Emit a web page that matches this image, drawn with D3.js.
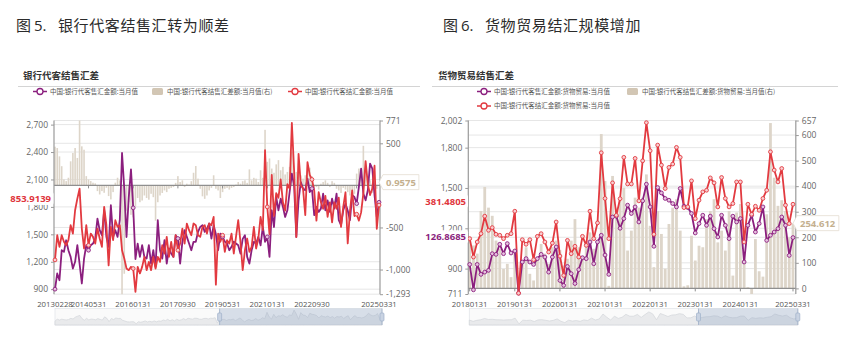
<!DOCTYPE html>
<html>
<head>
<meta charset="utf-8">
<script src="https://cdn.jsdelivr.net/npm/d3@7"></script>
<style>
  html, body { margin: 0; padding: 0; background: #fff; }
  svg { display: block; }
</style>
</head>
<body>
<svg id="chart" width="847" height="344"></svg>
<script>
// ---------- Figure 5: bank FX settlement / sales on behalf of clients (monthly) ----------
const bankStart = [2013, 2];            // first month
const bankTickLabels = ["20130228", "20140531", "20160131", "20170930", "20190531", "20210131", "20220930", "20250331"];
const bankLeftTicks = [900, 1200, 1500, 1800, 2100, 2400, 2700];
const bankRightTicks = [-1293, -1000, -500, 500, 771];
const bankLeftDomain = [845, 2745];
const bankRightDomain = [-1293, 771];

// 售汇 (purple)
const bankSales = [
  900, 1072, 998, 1326, 1308, 1435, 1326, 1253, 1126, 1199,
  1381, 1180, 962, 1235, 1381, 1326, 1381, 1399, 1454, 1672,
  1545, 1490, 1763, 1472, 1363, 1818, 1472, 1545, 1472, 1654,
  2390, 2000, 1470, 1900, 2210, 1790, 1230, 1399, 1253, 1381,
  1253, 1235, 1381, 1180, 1326, 1144, 1654, 1326, 1235, 1436,
  1180, 1345, 1290, 1253, 1490, 1454, 1180, 1418, 1545, 1472,
  1399, 1326, 1418, 1418, 1527, 1581, 1600, 1527, 1563, 1618,
  1454, 1600, 1500, 1326, 1508, 1472, 1420, 1400, 1326, 1363,
  1420, 1400, 1380, 1290, 1450, 1490, 1253, 1180, 1326, 1418,
  1400, 1472, 1380, 1581, 1418, 1472, 1253, 1763, 1580, 1909,
  1763, 1891, 1800, 1690, 1763, 1963, 2164, 2037, 1472, 1872,
  2072, 2000, 1982, 2110, 1963, 2000, 1709, 1800, 1745, 1781,
  1945, 1763, 1872, 1745, 1891, 1781, 1945, 1654, 1600, 1763,
  1836, 1760, 1654, 1927, 1909, 1836, 2018, 2219, 1945, 1872,
  1982, 2274, 2219, 1927, 1690, 1850
];
// 结汇 (red)
const bankSettle = [
  1220, 1490, 1363, 1490, 1418, 1381, 1436, 1600, 1508, 1763,
  1891, 2000, 1563, 1345, 1600, 1381, 1508, 1472, 1399, 1563,
  1454, 1363, 1800, 1600, 1160, 1581, 1436, 1654, 1581, 1600,
  1326, 1235, 1126, 1108, 1144, 1126, 871, 1144, 1072, 1144,
  1253, 1108, 1199, 1108, 1253, 1126, 1253, 1199, 1381, 1290,
  1472, 1253, 1418, 1253, 1490, 1326, 1399, 1563, 1399, 1618,
  1545, 1490, 1618, 1600, 1490, 1472, 1581, 1600, 1508, 1618,
  1600, 1690, 950, 1508, 1418, 1490, 1308, 1436, 1399, 1508,
  1290, 1472, 1654, 1418, 1108, 1326, 1454, 1308, 1363, 1581,
  1345, 1454, 1690, 1545, 2420, 1800, 1500, 2150, 1700, 1950,
  1900, 2100, 1850, 1760, 2050, 2000, 2720, 2200, 1470, 2380,
  2040, 2000, 1710, 2290, 2150, 2100, 1980, 1650, 1960, 1850,
  1780, 1920, 1690, 1850, 1630, 1850, 1780, 1900, 1580, 1800,
  1960, 1400, 1750, 1980, 1700, 1720, 1650, 1740, 1950, 2300,
  2050, 1930, 2000, 2250, 1560, 1820
];
// 结售汇差额 (bars, right axis)
const bankNet = [
  460, 444, 345, 228, 70, 51, 91, 286, 385, 444,
  326, 771, 464, 424, 110, 70, 51, 32, 24, -68,
  -108, -68, -88, -29, -127, -167, -80, 32, 91, 60,
  -1293, -1050, -300, -200, -350, -380, -250, -150, -200, -180,
  -120, -150, -170, -100, -140, -420, -200, -120, -90, -60,
  -80, -40, -30, -20, 30, 110, 40, 60, -20, 20,
  10, 50, 150, 230, 80, -40, -130, -160, -120, -60,
  -30, 120, -40, -60, -150, -80, -40, -30, -50, -30,
  -20, 10, 40, 20, 50, 60, 30, 190, 60, 90,
  80, 40, 180, 90, 660, 280, 320, 200, 150, 250,
  300, 180, 220, 130, 160, 220, 400, 150, 160, 260,
  120, 80, 120, 180, 210, 110, -30, -20, -50, 20,
  40, 60, 30, -20, 50, 30, -40, -60, -90, -30,
  -50, -80, -120, -70, -100, 140, 200, 130, 470, 200,
  80, 60, -90, 80, -40, 0.9575
];

// ---------- Figure 6: goods-trade FX settlement / sales (monthly) ----------
const tradeStart = [2018, 1];
const tradeTickLabels = ["20180131", "20190131", "20200131", "20210131", "20220131", "20230131", "20240131", "20250331"];
const tradeLeftTicks = [711, 900, 1200, 1500, 1800, 2002];
const tradeRightTicks = [0, 100, 200, 300, 400, 500, 600, 657];
const tradeLeftDomain = [711, 2002];
const tradeRightDomain = [-22, 657];

const tradeSales = [
  931, 742, 931, 857, 874, 887, 1011, 1006, 1081, 1011,
  1086, 1016, 1031, 717, 949, 974, 949, 931, 974, 1006,
  986, 874, 986, 1061, 812, 775, 916, 862, 789, 892,
  981, 974, 1098, 936, 1098, 1148, 1001, 857, 1284, 1290,
  1200, 1272, 1372, 1310, 1359, 1247, 1404, 1528, 1359, 1066,
  1503, 1463, 1422, 1409, 1384, 1359, 1496, 1364, 1354, 1310,
  1165, 1235, 1297, 1222, 1290, 1197, 1135, 1297, 1222, 1123,
  1290, 1247, 1272, 949, 1222, 1297, 1172, 1235, 1359, 1110,
  1148, 1172, 1197, 1284, 1222, 998, 1131
];
const tradeSettle = [
  1123, 986, 1098, 1160, 1290, 1185, 1205, 1155, 1148, 1123,
  1148, 1160, 1327, 717, 1115, 1081, 1115, 966, 1140, 1160,
  1098, 1023, 1090, 1247, 993, 849, 1110, 1011, 1066, 986,
  1140, 1073, 1327, 1123, 1240, 1762, 1422, 1123, 1538, 1297,
  1420, 1728, 1530, 1530, 1720, 1404, 1702, 1986, 1777, 1155,
  1819, 1670, 1496, 1653, 1678, 1802, 1728, 1354, 1360, 1553,
  1272, 1409, 1471, 1483, 1575, 1538, 1359, 1578, 1422, 1359,
  1384, 1545, 1545, 1098, 1379, 1304, 1364, 1334, 1422, 1483,
  1769, 1633, 1545, 1645, 1372, 1235, 1379
];
const tradeNet = [
  187, 168, 136, 303, 397, 316, 284, 187, 155, 76,
  96, 44, 136, 31, 109, 161, 57, 31, 122, 174,
  136, 96, 161, 187, 150, 89, 116, 187, 271, 161,
  122, 174, 219, 155, 187, 604, 420, 10, 440, 316,
  342, 394, 148, 226, 355, 316, 355, 446, 245, 83,
  303, 213, 77, 252, 316, 349, 226, 8, 12, 206,
  109, 167, 161, 271, 303, 349, 180, 226, 148, 303,
  50, 297, 330, 141, 5, -22, 193, 67, 46, 290,
  647, 433, 323, 345, 303, 200, 254.612
];

// ---------- drawing ----------
const svg = d3.select("#chart");
const NUM_FONT = "'Open Sans', 'Noto Sans', sans-serif";
const CJK_FONT = "'Noto Sans CJK SC', sans-serif";
const PURPLE = "#8b1f7e";
const RED = "#e23a40";
const BAR = "#ddd5c9";
const TAN = "#c4b08f";

const fmtAbs = d3.format(",");
const fmt = v => (v < 0 ? "-" : "") + fmtAbs(Math.abs(v));
const monthKey = d3.timeFormat("%Y-%m");
const parseLabel = d3.timeParse("%Y%m%d");

function monthKeys(start, n) {
  return d3.range(n).map(k => monthKey(new Date(start[0], start[1] - 1 + k, 1)));
}

function legendLine(g, x, y, color, label) {
  g.append("line").attr("x1", x).attr("x2", x + 14).attr("y1", y).attr("y2", y)
    .attr("stroke", color).attr("stroke-width", 1.5);
  g.append("circle").attr("cx", x + 7).attr("cy", y).attr("r", 3)
    .attr("fill", "#fff").attr("stroke", color).attr("stroke-width", 1.3);
  g.append("text").attr("x", x + 17).attr("y", y).attr("dy", "0.35em")
    .attr("font-family", CJK_FONT).attr("font-size", 6.5).attr("fill", "#555").text(label);
}
function legendBox(g, x, y, label) {
  g.append("rect").attr("x", x).attr("y", y - 3.5).attr("width", 11).attr("height", 7).attr("rx", 1.5)
    .attr("fill", "#d2c6b4");
  g.append("text").attr("x", x + 15).attr("y", y).attr("dy", "0.35em")
    .attr("font-family", CJK_FONT).attr("font-size", 6.5).attr("fill", "#555").text(label);
}

function tag(g, x, y, text, color, opts) {
  const t = g.append("text").attr("x", x).attr("y", y).attr("dy", "0.35em")
    .attr("font-family", NUM_FONT).attr("font-size", opts.size || 9.5).attr("font-weight", 700)
    .attr("fill", color).attr("text-anchor", opts.anchor || "start").text(text);
  const bb = t.node().getBBox();
  if (opts.arrowLeft) {
    const x0 = bb.x - 3, x1 = bb.x + bb.width + 3, y0 = bb.y - 1, y1 = bb.y + bb.height + 1;
    g.insert("path", () => t.node())
      .attr("d", `M${x0 - 4},${y} L${x0},${y0} L${x1},${y0} L${x1},${y1} L${x0},${y1} Z`)
      .attr("fill", "#fff").attr("stroke", "#e4ddd2").attr("stroke-width", 0.8);
  } else {
    g.insert("rect", () => t.node())
      .attr("x", bb.x - 2).attr("y", bb.y).attr("width", bb.width + 4).attr("height", bb.height)
      .attr("rx", 2).attr("fill", "#fff").attr("fill-opacity", 0.95);
  }
}

function drawPanel(p) {
  const g = svg.append("g");
  const keys = monthKeys(p.start, p.sales.length);
  const x = d3.scalePoint().domain(keys).range([p.xFirst, p.xLast]);
  const yL = d3.scaleLinear().domain(p.leftDomain).range([p.yBottom, p.yTop]);
  const yR = d3.scaleLinear().domain(p.rightDomain).range([p.yBottom, p.yTop]);

  // headings
  const title = g.append("text").attr("y", 31).attr("font-family", CJK_FONT)
    .attr("font-size", 15).attr("fill", "#2b2b2b");
  title.append("tspan").attr("x", p.titleX).text("图");
  title.append("tspan").attr("x", p.titleX + 18).attr("font-family", NUM_FONT).text(p.figNo);
  title.append("tspan").attr("x", p.titleX + 42).attr("letter-spacing", 0.6).text(p.title);

  g.append("text").attr("x", p.subX).attr("y", 79).attr("font-family", CJK_FONT)
    .attr("font-size", 9.5).attr("font-weight", 700).attr("fill", "#333").text(p.subtitle);
  g.append("line").attr("x1", p.ruleX0).attr("x2", p.ruleX1).attr("y1", 86.5).attr("y2", 86.5)
    .attr("stroke", "#d4d4d4").attr("stroke-width", 1);

  // legend
  const lg = g.append("g");
  p.legend(lg);

  // grid lines
  const grid = g.append("g");
  p.leftTicks.forEach(v => grid.append("line").attr("x1", p.axisL).attr("x2", p.axisR)
    .attr("y1", yL(v)).attr("y2", yL(v)).attr("stroke", "#e6e6e6"));
  p.rightTicks.forEach(v => grid.append("line").attr("x1", p.axisL).attr("x2", p.axisR)
    .attr("y1", yR(v)).attr("y2", yR(v)).attr("stroke", "#e6e6e6"));

  // bars (net, right axis)
  const bw = p.barWidth;
  g.append("g").selectAll("rect").data(p.net).join("rect")
    .attr("x", (d, i) => x(keys[i]) - bw / 2)
    .attr("width", bw)
    .attr("y", d => Math.min(yR(d), yR(0)))
    .attr("height", d => Math.abs(yR(d) - yR(0)))
    .attr("fill", BAR);

  // zero axis line with ticks
  const tickIdx = p.tickLabels.map(s => keys.indexOf(monthKey(parseLabel(s))));
  g.append("line").attr("x1", p.axisL).attr("x2", p.axisR).attr("y1", yR(0)).attr("y2", yR(0))
    .attr("stroke", "#8f8f8f").attr("stroke-width", 1.2);
  g.append("g").selectAll("line").data(p.axisTickIdx).join("line")
    .attr("x1", i => x(keys[i])).attr("x2", i => x(keys[i]))
    .attr("y1", yR(0)).attr("y2", yR(0) + 3).attr("stroke", "#8f8f8f");

  // y axes
  const axL = g.append("g").attr("transform", `translate(${p.axisL},0)`)
    .call(d3.axisLeft(yL).tickValues(p.leftTicks).tickSize(3).tickSizeOuter(0).tickFormat(fmt));
  const axR = g.append("g").attr("transform", `translate(${p.axisR},0)`)
    .call(d3.axisRight(yR).tickValues(p.rightTicks).tickSize(3).tickSizeOuter(0).tickFormat(fmt));
  [axL, axR].forEach(a => {
    a.select(".domain").attr("stroke", "#9a9a9a").attr("stroke-width", 1.2);
    a.selectAll(".tick line").attr("stroke", "#9a9a9a");
    a.selectAll(".tick text").attr("font-family", NUM_FONT).attr("font-size", 8.5).attr("fill", "#666");
  });
  axL.select(".domain").attr("d", `M0,${p.yTop}V${p.yBottom}`);
  axR.select(".domain").attr("d", `M0,${p.yTop}V${p.yBottom}`);

  // x labels
  g.append("g").selectAll("text").data(tickIdx).join("text")
    .attr("x", i => x(keys[i])).attr("y", 307).attr("text-anchor", "middle")
    .attr("font-family", NUM_FONT).attr("font-size", 7.8).attr("fill", "#555")
    .text((i, k) => p.tickLabels[k]);

  // lines
  const line = d3.line().x((d, i) => x(keys[i])).y(d => yL(d));
  g.append("path").datum(p.sales).attr("d", line).attr("fill", "none")
    .attr("stroke", PURPLE).attr("stroke-width", 1.8).attr("stroke-linejoin", "round");
  g.append("path").datum(p.settle).attr("d", line).attr("fill", "none")
    .attr("stroke", RED).attr("stroke-width", 1.8).attr("stroke-linejoin", "round");

  // symbols
  [[p.sales, PURPLE, "#e6c3df"], [p.settle, RED, "#f8cfd2"]].forEach(([vals, col, fill]) => {
    g.append("g").selectAll("circle").data(p.symbolIdx).join("circle")
      .attr("cx", i => x(keys[i])).attr("cy", i => yL(vals[i])).attr("r", 1.9)
      .attr("fill", fill).attr("stroke", col).attr("stroke-width", 0.9);
  });

  // range slider under the plot
  const sx = d3.scalePoint().domain(keys).range([p.axisL + 1, p.axisR + 2]);
  const sy = d3.scaleLinear().domain(p.shadowDomain).range([325, 308]);
  const sl = g.append("g");
  sl.append("rect").attr("x", p.axisL + 1).attr("y", 308.5).attr("width", p.axisR - p.axisL + 1).attr("height", 16.5)
    .attr("fill", "#fafafa").attr("stroke", "#e3e6ea").attr("stroke-width", 0.8);
  sl.append("path").datum(p.settle)
    .attr("d", d3.area().x((d, i) => sx(keys[i])).y0(325).y1(d => sy(d)))
    .attr("fill", "#e9eaec").attr("stroke", "#d3d6da").attr("stroke-width", 0.7);
  const selX0 = sx(keys[p.selectStart]);
  sl.append("rect").attr("x", selX0).attr("y", 308.5).attr("width", p.axisR + 2 - selX0).attr("height", 16.5)
    .attr("fill", "#8fa5c4").attr("fill-opacity", 0.32);
  [selX0, p.axisR + 2].forEach(hx => {
    sl.append("line").attr("x1", hx).attr("x2", hx).attr("y1", 308.5).attr("y2", 325)
      .attr("stroke", "#a9b8cd").attr("stroke-width", 1);
    sl.append("rect").attr("x", hx - 2).attr("y", 313).attr("width", 4).attr("height", 8).attr("rx", 1)
      .attr("fill", "#c9d3e2").attr("stroke", "#9eb0c8").attr("stroke-width", 0.7);
  });

  p.tags(g, yL, yR);
}

// Figure 5
drawPanel({
  start: bankStart, sales: bankSales, settle: bankSettle, net: bankNet,
  tickLabels: bankTickLabels, leftTicks: bankLeftTicks, rightTicks: bankRightTicks,
  leftDomain: bankLeftDomain, rightDomain: bankRightDomain,
  xFirst: 55, xLast: 379, axisL: 54, axisR: 380, yTop: 120.5, yBottom: 294.2,
  barWidth: 1.6, shadowDomain: [700, 3000], selectStart: 73,
  axisTickIdx: [15, 35, 55, 75, 95, 115, 135],
  symbolIdx: [0, 15, 35, 55, 75, 95, 115, 135, 145],
  titleX: 16, figNo: "5.", title: "银行代客结售汇转为顺差",
  subX: 23, subtitle: "银行代客结售汇差", ruleX0: 18, ruleX1: 420,
  legend: lg => {
    legendLine(lg, 33, 91.5, PURPLE, "中国:银行代客售汇金额:当月值");
    legendBox(lg, 152, 91.5, "中国:银行代客结售汇差额:当月值(右)");
    legendLine(lg, 288, 91.5, RED, "中国:银行代客结汇金额:当月值");
  },
  tags: (g, yL, yR) => {
    tag(g, 51, yL(1890), "853.9139", "#e0353c", { anchor: "end" });
    tag(g, 386, yR(0.9575) - 3, "0.9575", TAN, { arrowLeft: true });
  }
});

// Figure 6
drawPanel({
  start: tradeStart, sales: tradeSales, settle: tradeSettle, net: tradeNet,
  tickLabels: tradeTickLabels, leftTicks: tradeLeftTicks, rightTicks: tradeRightTicks,
  leftDomain: tradeLeftDomain, rightDomain: tradeRightDomain,
  xFirst: 469.7, xLast: 793, axisL: 468.3, axisR: 795.8, yTop: 120.5, yBottom: 294,
  barWidth: 2.8, shadowDomain: [600, 2400], selectStart: 60,
  axisTickIdx: [0, 12, 24, 36, 48, 60, 72, 86],
  symbolIdx: d3.range(tradeSales.length),
  titleX: 443, figNo: "6.", title: "货物贸易结汇规模增加",
  subX: 438, subtitle: "货物贸易结售汇差", ruleX0: 432, ruleX1: 838,
  legend: lg => {
    legendLine(lg, 477, 91.5, PURPLE, "中国:银行代客售汇金额:货物贸易:当月值");
    legendBox(lg, 627, 91.5, "中国:银行代客结售汇差额:货物贸易:当月值(右)");
    legendLine(lg, 477, 106, RED, "中国:银行代客结汇金额:货物贸易:当月值");
  },
  tags: (g, yL, yR) => {
    tag(g, 466, yL(1400), "381.4805", "#e0353c", { anchor: "end" });
    tag(g, 466, yL(1135), "126.8685", PURPLE, { anchor: "end" });
    tag(g, 800, yR(254.612), "254.612", TAN, { arrowLeft: true });
  }
});
</script>
</body>
</html>
